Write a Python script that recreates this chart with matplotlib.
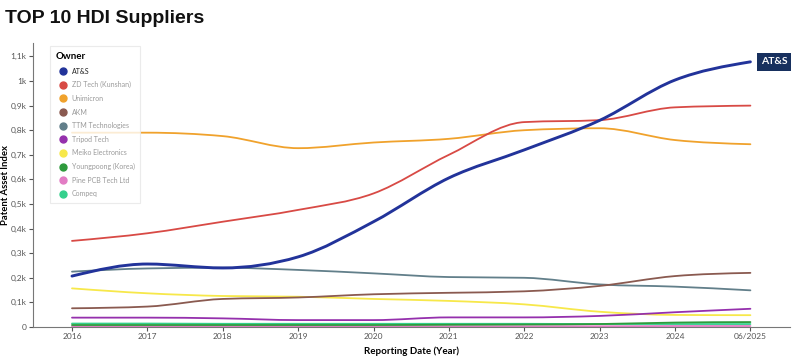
import numpy as np
import matplotlib
matplotlib.use("Agg")
import matplotlib.pyplot as plt
from matplotlib.path import Path
from matplotlib.patches import PathPatch
from matplotlib.lines import Line2D

# reporting dates (equally spaced categories)
years = ["2016", "2017", "2018", "2019", "2020", "2021", "2022", "2023", "2024", "06/2025"]

# patent asset index, in thousands
ats = [0.207, 0.256, 0.240, 0.285, 0.428, 0.606, 0.720, 0.840, 1.004, 1.078]
zd_tech = [0.350, 0.381, 0.428, 0.476, 0.543, 0.700, 0.833, 0.841, 0.893, 0.900]
unimicron = [0.790, 0.790, 0.776, 0.727, 0.750, 0.765, 0.800, 0.808, 0.760, 0.743]
akm = [0.076, 0.083, 0.114, 0.120, 0.133, 0.139, 0.145, 0.167, 0.207, 0.220]
ttm = [0.225, 0.238, 0.241, 0.232, 0.218, 0.203, 0.200, 0.173, 0.164, 0.149]
tripod = [0.038, 0.038, 0.035, 0.028, 0.028, 0.039, 0.039, 0.045, 0.060, 0.074]
meiko = [0.157, 0.137, 0.126, 0.123, 0.114, 0.106, 0.092, 0.062, 0.049, 0.048]
youngpoong = [0.008, 0.008, 0.008, 0.008, 0.008, 0.009, 0.010, 0.012, 0.018, 0.020]
pcb_tech = [0.003, 0.003, 0.003, 0.003, 0.003, 0.003, 0.003, 0.003, 0.004, 0.004]
compeq = [0.014, 0.014, 0.013, 0.013, 0.013, 0.013, 0.013, 0.012, 0.012, 0.012]

owners = ["AT&S", "ZD Tech (Kunshan)", "Unimicron", "AKM", "TTM Technologies",
          "Tripod Tech", "Meiko Electronics", "Youngpoong (Korea)", "Pine PCB Tech Ltd",
          "Compeq"]
series = [ats, zd_tech, unimicron, akm, ttm, tripod, meiko, youngpoong, pcb_tech, compeq]
colors = ["#22339a", "#d84a45", "#f0a22c", "#8a5a50", "#627f8a",
          "#9530ad", "#f7e84a", "#2e9a3c", "#e27cc4", "#34d08c"]
y_ticks = [0, 0.1, 0.2, 0.3, 0.4, 0.5, 0.6, 0.7, 0.8, 0.9, 1.0, 1.1]


def smooth_path(x, y):
    # monotone-x cubic bezier, same idea as d3.curveMonotoneX
    x = np.asarray(x, float)
    y = np.asarray(y, float)
    n = len(x)
    h = np.diff(x)
    s = np.diff(y) / h
    t = np.zeros(n)
    for i in range(1, n - 1):
        p = (s[i - 1] * h[i] + s[i] * h[i - 1]) / (h[i - 1] + h[i])
        t[i] = (np.sign(s[i - 1]) + np.sign(s[i])) * min(abs(s[i - 1]), abs(s[i]), 0.5 * abs(p))
    t[0] = (3 * s[0] - t[1]) / 2
    t[-1] = (3 * s[-1] - t[-2]) / 2
    verts = [(x[0], y[0])]
    codes = [Path.MOVETO]
    for i in range(n - 1):
        d = h[i] / 3
        verts += [(x[i] + d, y[i] + d * t[i]), (x[i + 1] - d, y[i + 1] - d * t[i + 1]), (x[i + 1], y[i + 1])]
        codes += [Path.CURVE4] * 3
    return Path(verts, codes)


fig = plt.figure(figsize=(8, 3.56), dpi=100)
ax = fig.add_axes([0.041, 0.0815, 0.946, 0.798])

xs = np.arange(len(years))
# draw back to front so AT&S sits on top
for name, vals, c in reversed(list(zip(owners, series, colors))):
    lw = 2.1 if name == "AT&S" else 1.3
    ax.add_patch(PathPatch(smooth_path(xs, vals), facecolor="none", edgecolor=c,
                           lw=lw, capstyle="round", zorder=3 if name == "AT&S" else 2))

ax.set_xlim(-0.52, 9.52)
ax.set_ylim(0, 1.155)
ax.set_xticks(xs)
ax.set_xticklabels(years)
ax.set_yticks(y_ticks)
ax.set_yticklabels(["0" if v == 0 else ("1k" if v == 1 else f"{v:.1f}k".replace(".", ",")) for v in y_ticks])
ax.tick_params(labelsize=6, colors="#555555", length=3, width=0.8, pad=1.5)
for lab in ax.get_xticklabels() + ax.get_yticklabels():
    lab.set_family("Lato")
for side in ["top", "right"]:
    ax.spines[side].set_visible(False)
for side in ["left", "bottom"]:
    ax.spines[side].set_color("#777777")
    ax.spines[side].set_linewidth(0.8)

ax.set_xlabel("Reporting Date (Year)", fontsize=7, fontweight="bold", family="Lato")
ax.set_ylabel("Patent Asset Index", fontsize=6.8, fontweight="bold", family="Lato")
ax.xaxis.set_label_coords(0.5, -0.07)
ax.yaxis.set_label_coords(-0.03, 0.5)

# end label for AT&S
ax.annotate("AT&S", xy=(xs[-1], ats[-1]), xytext=(17, 0), textcoords="offset points",
            ha="center", va="center", color="white", fontsize=7.5, fontweight="bold",
            family="Lato",
            bbox=dict(boxstyle="square,pad=0.4", fc="#17305e", ec="none"))

handles = [Line2D([], [], marker="o", ls="none", color=c, markersize=5) for c in colors]
leg = ax.legend(handles, owners, title="Owner", loc="upper left", bbox_to_anchor=(0.0185, 1.0),
                frameon=True, title_fontsize=7, handletextpad=0.3,
                labelspacing=0.95, borderpad=0.8, prop={"family": "Lato", "size": 5})
leg.get_title().set_fontweight("bold")
leg.get_title().set_family("Lato")
leg._legend_box.align = "left"
leg.get_frame().set_edgecolor("#e6e6e6")
leg.get_frame().set_linewidth(0.8)
leg.get_frame().set_boxstyle("square", pad=0)
for i, t in enumerate(leg.get_texts()):
    t.set_color("#222222" if i == 0 else "#9a9a9a")

fig.text(0.006, 0.948, "TOP 10 HDI Suppliers", fontsize=14, fontweight="bold",
         family="Liberation Sans", va="center", ha="left", color="#111111")

fig.savefig("out.png", dpi=100)
